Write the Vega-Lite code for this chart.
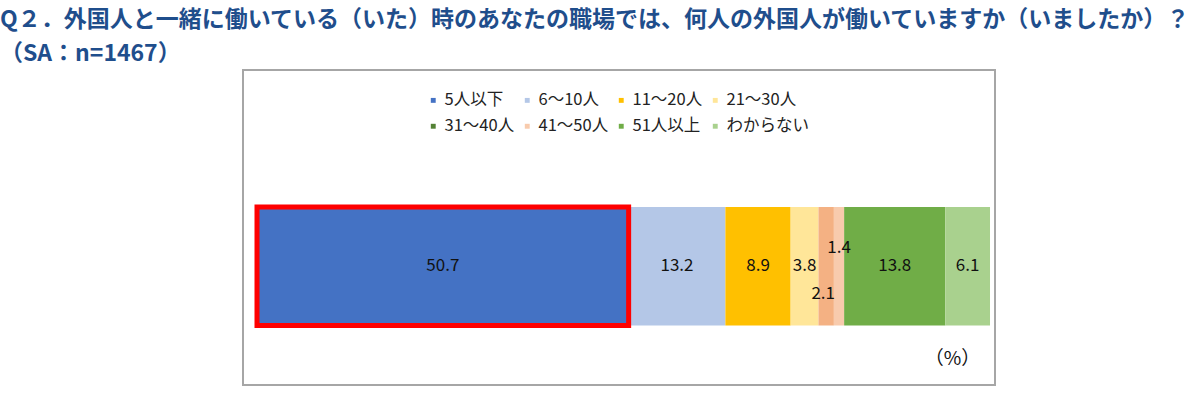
{
  "$schema": "https://vega.github.io/schema/vega-lite/v6.json",
  "width": 752,
  "height": 315,
  "autosize": {"type": "none"},
  "padding": {"left": 243, "top": 70, "right": 205, "bottom": 12},
  "background": "white",
  "config": {
    "font": "Noto Sans CJK JP",
    "view": {"stroke": "#A6A6A6", "strokeWidth": 2}
  },
  "title": {
    "text": ["Q２．外国人と一緒に働いている（いた）時のあなたの職場では、何人の外国人が働いていますか（いましたか）？", "（SA：n=1467）"],
    "anchor": "start",
    "frame": "group",
    "dx": -243,
    "offset": 4,
    "fontSize": 23,
    "fontWeight": "bold",
    "color": "#1F4E8C",
    "lineHeight": 34,
    "font": "Noto Sans CJK JP"
  },
  "data": {
    "values": [
      {"cat": "5人以下", "pct": 50.7, "order": 1},
      {"cat": "6～10人", "pct": 13.2, "order": 2},
      {"cat": "11～20人", "pct": 8.9, "order": 3},
      {"cat": "21～30人", "pct": 3.8, "order": 4},
      {"cat": "31～40人", "pct": 2.1, "order": 5},
      {"cat": "41～50人", "pct": 1.4, "order": 6},
      {"cat": "51人以上", "pct": 13.8, "order": 7},
      {"cat": "わからない", "pct": 6.1, "order": 8}
    ]
  },
  "transform": [
    {"stack": "pct", "groupby": [], "sort": [{"field": "order", "order": "ascending"}], "as": ["x0", "x1"]},
    {"calculate": "(datum.x0 + datum.x1) / 2", "as": "mid"}
  ],
  "layer": [
    {
      "mark": {"type": "bar"},
      "encoding": {
        "x": {
          "field": "x0", "type": "quantitative",
          "scale": {"domain": [-1.91, 100.68], "nice": false, "zero": false},
          "axis": {
            "orient": "bottom", "domain": false, "ticks": false, "labels": false, "grid": false,
            "title": "（%）", "titleX": 709, "titleY": -27, "titleAlign": "center", "titleBaseline": "middle",
            "titleFontSize": 19, "titleFontWeight": "normal", "titleColor": "#111111", "titleFont": "Noto Sans CJK JP"
          }
        },
        "x2": {"field": "x1"},
        "y": {"datum": 0.189, "type": "quantitative", "scale": {"domain": [0, 1], "nice": false}, "axis": null},
        "y2": {"datum": 0.565},
        "color": {
          "condition": {"test": "datum.cat === '31～40人'", "value": "#F4B183"},
          "field": "cat", "type": "nominal",
          "scale": {
            "domain": ["5人以下", "6～10人", "11～20人", "21～30人", "31～40人", "41～50人", "51人以上", "わからない"],
            "range": ["#4472C4", "#B4C7E7", "#FFC000", "#FFE699", "#548235", "#F8CBAD", "#70AD47", "#A9D18E"]
          },
          "legend": {
            "title": null, "orient": "none", "direction": "horizontal", "legendX": 182, "legendY": 22, "columns": 4,
            "symbolType": "square", "symbolSize": 24, "symbolStrokeWidth": 0,
            "labelFontSize": 16.5, "labelColor": "#222222", "labelFont": "Noto Sans CJK JP",
            "labelOffset": 3, "columnPadding": 4, "rowPadding": 9, "padding": 0
          }
        },
        "order": {"field": "order"}
      }
    },
    {
      "transform": [{"filter": "datum.cat === '5人以下'"}],
      "mark": {"type": "bar", "fill": null, "fillOpacity": 0, "stroke": "#FF0000", "strokeWidth": 5},
      "encoding": {
        "x": {"field": "x0", "type": "quantitative"},
        "x2": {"field": "x1"},
        "y": {"datum": 0.189, "type": "quantitative"},
        "y2": {"datum": 0.565}
      }
    },
    {
      "transform": [{"filter": "datum.cat !== '31～40人' && datum.cat !== '41～50人'"}],
      "mark": {"type": "text", "fontSize": 17, "color": "#111111", "align": "center", "baseline": "middle"},
      "encoding": {
        "x": {"field": "mid", "type": "quantitative"},
        "y": {"datum": 0.377, "type": "quantitative"},
        "text": {"field": "pct", "type": "quantitative", "format": ".1f"}
      }
    },
    {
      "transform": [{"filter": "datum.cat === '31～40人'"}],
      "mark": {"type": "text", "fontSize": 17, "color": "#111111", "align": "center", "baseline": "middle", "dx": -3, "dy": 28},
      "encoding": {
        "x": {"field": "mid", "type": "quantitative"},
        "y": {"datum": 0.377, "type": "quantitative"},
        "text": {"field": "pct", "type": "quantitative", "format": ".1f"}
      }
    },
    {
      "transform": [{"filter": "datum.cat === '41～50人'"}],
      "mark": {"type": "text", "fontSize": 17, "color": "#111111", "align": "center", "baseline": "middle", "dy": -18},
      "encoding": {
        "x": {"field": "mid", "type": "quantitative"},
        "y": {"datum": 0.377, "type": "quantitative"},
        "text": {"field": "pct", "type": "quantitative", "format": ".1f"}
      }
    }
  ]
}
